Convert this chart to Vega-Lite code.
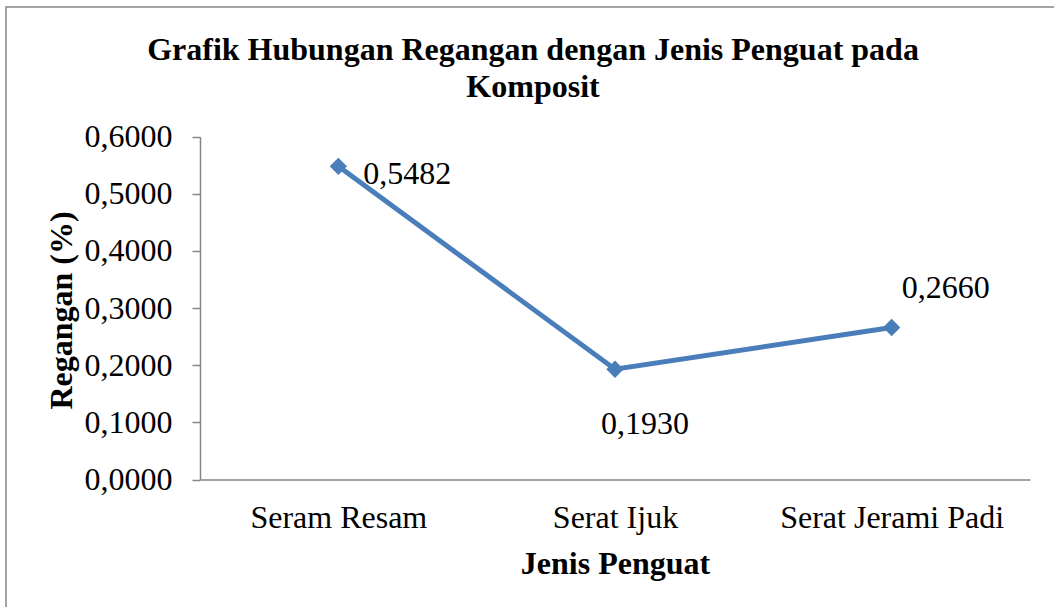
{
  "$schema": "https://vega.github.io/schema/vega-lite/v6.json",
  "width": 1052,
  "height": 604,
  "autosize": {"type": "none"},
  "padding": {"left": 6, "top": 7, "right": 0, "bottom": 0},
  "background": "white",
  "config": {
    "view": {"stroke": "#878787", "strokeWidth": 1.5},
    "font": "Liberation Serif",
    "locale": {"number": {"decimal": ",", "thousands": ".", "grouping": [3], "currency": ["", ""]}}
  },
  "title": {
    "text": ["Grafik Hubungan Regangan dengan Jenis Penguat pada", "Komposit"],
    "font": "Liberation Serif",
    "fontSize": 32,
    "fontWeight": "bold",
    "color": "black",
    "lineHeight": 37,
    "anchor": "middle",
    "frame": "group",
    "baseline": "top",
    "offset": -26,
    "dx": 1,
    "dy": 71
  },
  "data": {
    "values": [
      {"jenis": "Seram Resam", "regangan": 0.5482},
      {"jenis": "Serat Ijuk", "regangan": 0.193},
      {"jenis": "Serat Jerami Padi", "regangan": 0.266}
    ]
  },
  "encoding": {
    "x": {
      "field": "jenis",
      "type": "nominal",
      "sort": null,
      "scale": {"type": "point", "range": [194, 1024], "padding": 0.5},
      "axis": {
        "orient": "bottom",
        "offset": -131.5,
        "title": "Jenis Penguat",
        "titleFont": "Liberation Serif",
        "titleFontSize": 32,
        "titleFontWeight": "bold",
        "titleColor": "black",
        "titleBaseline": "alphabetic",
        "titleX": 609,
        "titleY": 93.5,
        "domainColor": "#868686",
        "domainWidth": 1.5,
        "ticks": false,
        "tickSize": 0,
        "grid": false,
        "labelAngle": 0,
        "labelFont": "Liberation Serif",
        "labelFontSize": 32,
        "labelColor": "black",
        "labelPadding": 23,
        "labelLimit": 0,
        "labelOverlap": false,
        "labelBound": false,
        "labelFlush": false
      }
    },
    "y": {
      "field": "regangan",
      "type": "quantitative",
      "scale": {"domain": [0, 0.6], "range": [472.5, 129.7], "nice": false, "zero": true},
      "axis": {
        "orient": "left",
        "offset": -194,
        "values": [0, 0.1, 0.2, 0.3, 0.4, 0.5, 0.6],
        "labelExpr": "replace(format(datum.value, '.4f'), '.', ',')",
        "title": "Regangan (%)",
        "titleFont": "Liberation Serif",
        "titleFontSize": 32,
        "titleFontWeight": "bold",
        "titleColor": "black",
        "titleAngle": -90,
        "titleAlign": "center",
        "titleBaseline": "middle",
        "titleX": -139,
        "titleY": 303,
        "domainColor": "#868686",
        "domainWidth": 1.5,
        "tickColor": "#868686",
        "tickWidth": 1.5,
        "tickSize": 8,
        "grid": false,
        "labelFont": "Liberation Serif",
        "labelFontSize": 32,
        "labelColor": "black",
        "labelPadding": 20,
        "labelOverlap": false,
        "labelBound": false
      }
    }
  },
  "layer": [
    {"mark": {"type": "line", "color": "#4A7EBB", "strokeWidth": 5}},
    {"mark": {"type": "point", "shape": "diamond", "filled": true, "size": 300, "color": "#4A7EBB", "opacity": 1}},
    {
      "transform": [{"filter": "datum.jenis === 'Seram Resam'"}],
      "mark": {"type": "text", "align": "left", "baseline": "alphabetic", "dx": 25, "dy": 18, "fontSize": 32, "font": "Liberation Serif", "color": "black"},
      "encoding": {"text": {"field": "regangan", "type": "quantitative", "format": ".4f"}}
    },
    {
      "transform": [{"filter": "datum.jenis === 'Serat Ijuk'"}],
      "mark": {"type": "text", "align": "center", "baseline": "alphabetic", "dx": 30, "dy": 65, "fontSize": 32, "font": "Liberation Serif", "color": "black"},
      "encoding": {"text": {"field": "regangan", "type": "quantitative", "format": ".4f"}}
    },
    {
      "transform": [{"filter": "datum.jenis === 'Serat Jerami Padi'"}],
      "mark": {"type": "text", "align": "center", "baseline": "alphabetic", "dx": 54, "dy": -30, "fontSize": 32, "font": "Liberation Serif", "color": "black"},
      "encoding": {"text": {"field": "regangan", "type": "quantitative", "format": ".4f"}}
    }
  ]
}
